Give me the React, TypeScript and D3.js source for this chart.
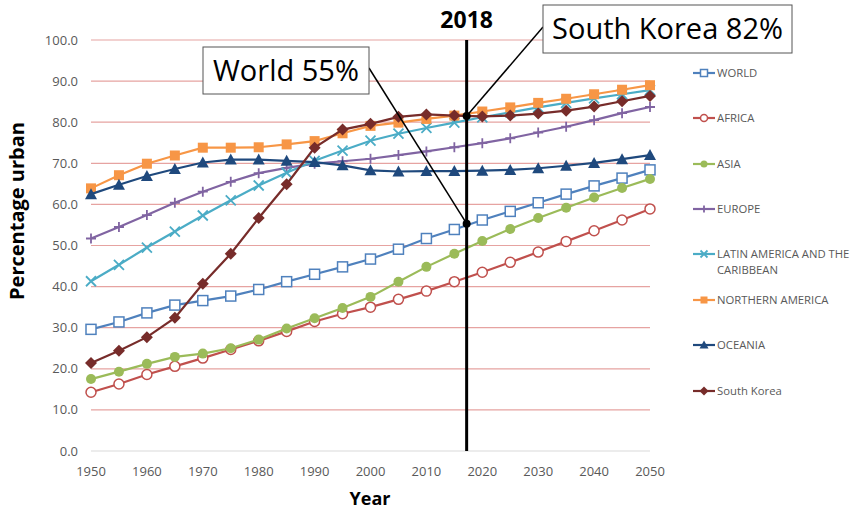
import { useEffect, useRef } from "react"
import * as d3 from "d3"

const years = d3.range(1950, 2051, 5)

const world = [29.6, 31.4, 33.6, 35.5, 36.6, 37.7, 39.3, 41.2, 43.0, 44.8, 46.7, 49.1, 51.7, 53.9, 56.2, 58.3, 60.4, 62.5, 64.5, 66.4, 68.4]
const africa = [14.3, 16.3, 18.6, 20.6, 22.6, 24.7, 26.8, 29.1, 31.5, 33.4, 35.0, 36.9, 38.9, 41.2, 43.5, 45.9, 48.4, 51.0, 53.6, 56.2, 58.9]
const asia = [17.5, 19.3, 21.2, 22.9, 23.7, 25.0, 27.1, 29.8, 32.3, 34.8, 37.5, 41.2, 44.8, 48.0, 51.1, 54.0, 56.7, 59.2, 61.7, 64.0, 66.2]
const europe = [51.7, 54.5, 57.4, 60.4, 63.1, 65.5, 67.6, 68.9, 69.9, 70.5, 71.1, 72.0, 72.9, 73.9, 74.9, 76.1, 77.5, 78.9, 80.5, 82.2, 83.7]
const latam = [41.3, 45.3, 49.5, 53.4, 57.3, 61.0, 64.6, 67.7, 70.6, 73.1, 75.5, 77.2, 78.6, 79.9, 81.2, 82.4, 83.6, 84.7, 85.8, 86.8, 87.8]
const northAmerica = [63.9, 67.1, 69.9, 71.9, 73.8, 73.8, 73.9, 74.6, 75.4, 77.3, 79.1, 79.9, 80.8, 81.6, 82.6, 83.6, 84.7, 85.7, 86.8, 87.9, 89.0]
const oceania = [62.5, 64.8, 66.9, 68.6, 70.2, 70.9, 70.9, 70.6, 70.3, 69.5, 68.3, 68.0, 68.1, 68.1, 68.2, 68.4, 68.8, 69.4, 70.1, 71.0, 72.0]
const southKorea = [21.4, 24.4, 27.7, 32.4, 40.7, 48.0, 56.7, 64.9, 73.8, 78.2, 79.6, 81.3, 81.9, 81.6, 81.4, 81.6, 82.1, 82.8, 83.8, 85.1, 86.4]

const yTicks = d3.range(0, 101, 10)
const xTicks = d3.range(1950, 2051, 10)

const markLabel = "2018"
// the marker line in the original sits a little left of 2018 on the axis
const markLinePos = 2017.2
const worldAt2018 = 55.3
const koreaAt2018 = 81.5

const series = [
  { name: "WORLD", values: world, color: "#4f81bd", marker: "squareOpen" },
  { name: "AFRICA", values: africa, color: "#c0504d", marker: "circleOpen" },
  { name: "ASIA", values: asia, color: "#9bbb59", marker: "circle" },
  { name: "EUROPE", values: europe, color: "#8064a2", marker: "plus" },
  { name: "LATIN AMERICA AND THE|CARIBBEAN", values: latam, color: "#4bacc6", marker: "cross" },
  { name: "NORTHERN AMERICA", values: northAmerica, color: "#f79646", marker: "square" },
  { name: "OCEANIA", values: oceania, color: "#1f497d", marker: "triangle" },
  { name: "South Korea", values: southKorea, color: "#772c2a", marker: "diamond" },
]

function drawMarker(g: any, type: string, color: string, s: number) {
  if (type === "squareOpen") {
    g.append("rect").attr("x", -s / 2).attr("y", -s / 2).attr("width", s).attr("height", s)
      .attr("fill", "white").attr("stroke", color).attr("stroke-width", 1.5)
  } else if (type === "square") {
    g.append("rect").attr("x", -s / 2).attr("y", -s / 2).attr("width", s).attr("height", s).attr("fill", color)
  } else if (type === "circleOpen") {
    g.append("circle").attr("r", s / 2).attr("fill", "white").attr("stroke", color).attr("stroke-width", 1.5)
  } else if (type === "circle") {
    g.append("circle").attr("r", s / 2).attr("fill", color)
  } else if (type === "plus") {
    g.append("path").attr("d", `M${-s / 2},0H${s / 2}M0,${-s / 2}V${s / 2}`).attr("stroke", color).attr("stroke-width", 1.8)
  } else if (type === "cross") {
    const h = s / 2
    g.append("path").attr("d", `M${-h},${-h}L${h},${h}M${-h},${h}L${h},${-h}`).attr("stroke", color).attr("stroke-width", 1.8)
  } else if (type === "triangle") {
    const h = s / 2
    g.append("path").attr("d", `M0,${-h - 1}L${h + 1},${h}L${-h - 1},${h}Z`).attr("fill", color)
  } else if (type === "diamond") {
    const h = s / 2 + 1
    g.append("path").attr("d", `M0,${-h}L${h},0L0,${h}L${-h},0Z`).attr("fill", color)
  }
}

export default function App() {
  const svgRef = useRef<SVGSVGElement>(null)

  useEffect(() => {
    if (!svgRef.current) return
    const width = 857
    const height = 511
    const svg = d3.select(svgRef.current)
    svg.selectAll("*").remove()
    svg.attr("width", width).attr("height", height)

    const font = "'Open Sans', sans-serif"
    const x = d3.scaleLinear().domain([1950, 2050]).range([91, 650])
    const y = d3.scaleLinear().domain([0, 100]).range([451, 40])

    // gridlines
    svg.append("g").selectAll("line").data(yTicks).enter().append("line")
      .attr("x1", x(1950)).attr("x2", x(2050))
      .attr("y1", (d) => y(d)).attr("y2", (d) => y(d))
      .attr("stroke", (d) => (d === 0 ? "#d9d9d9" : "#e6a3a1")).attr("stroke-width", 1.2)

    // tick labels
    svg.append("g").selectAll("text").data(yTicks).enter().append("text")
      .attr("x", 78).attr("y", (d) => y(d)).attr("dy", "0.35em").attr("text-anchor", "end")
      .attr("font-family", font).attr("font-size", 13).attr("fill", "#595959")
      .text((d) => d3.format(".1f")(d))
    svg.append("g").selectAll("text").data(xTicks).enter().append("text")
      .attr("x", (d) => x(d)).attr("y", 476).attr("text-anchor", "middle")
      .attr("font-family", font).attr("font-size", 13).attr("fill", "#595959")
      .text((d) => d)

    // axis titles
    svg.append("text").attr("transform", "translate(24,211) rotate(-90)").attr("text-anchor", "middle")
      .attr("font-family", font).attr("font-weight", "bold").attr("font-size", 20).text("Percentage urban")
    svg.append("text").attr("x", 370).attr("y", 505).attr("text-anchor", "middle")
      .attr("font-family", font).attr("font-weight", "bold").attr("font-size", 18).text("Year")

    // series
    const line = d3.line<number>().x((_, i) => x(years[i])).y((d) => y(d))
    series.forEach((s) => {
      svg.append("path").attr("d", line(s.values)).attr("fill", "none")
        .attr("stroke", s.color).attr("stroke-width", 2.2)
      s.values.forEach((v, i) => {
        const g = svg.append("g").attr("transform", `translate(${x(years[i])},${y(v)})`)
        drawMarker(g, s.marker, s.color, 10)
      })
    })

    // 2018 line
    const mx = x(markLinePos)
    svg.append("line").attr("x1", mx).attr("x2", mx).attr("y1", y(100)).attr("y2", y(0))
      .attr("stroke", "black").attr("stroke-width", 3)
    svg.append("text").attr("x", mx).attr("y", 28).attr("text-anchor", "middle")
      .attr("font-family", font).attr("font-weight", "bold").attr("font-size", 23).text(markLabel)

    // callouts
    svg.append("line").attr("x1", 369).attr("y1", 68).attr("x2", mx).attr("y2", y(worldAt2018))
      .attr("stroke", "black").attr("stroke-width", 1.5)
    svg.append("line").attr("x1", 543).attr("y1", 27).attr("x2", mx).attr("y2", y(koreaAt2018))
      .attr("stroke", "black").attr("stroke-width", 1.5)
    svg.append("circle").attr("cx", mx).attr("cy", y(worldAt2018)).attr("r", 4).attr("fill", "black")
    svg.append("circle").attr("cx", mx).attr("cy", y(koreaAt2018)).attr("r", 4).attr("fill", "black")

    const boxes = [
      { text: "World 55%", x: 203, y: 47, w: 166, h: 47 },
      { text: "South Korea 82%", x: 543, y: 5, w: 249, h: 48 },
    ]
    boxes.forEach((b) => {
      svg.append("rect").attr("x", b.x).attr("y", b.y).attr("width", b.w).attr("height", b.h)
        .attr("fill", "white").attr("stroke", "#555").attr("stroke-width", 1)
      svg.append("text").attr("x", b.x + b.w / 2).attr("y", b.y + b.h / 2).attr("dy", "0.36em")
        .attr("text-anchor", "middle").attr("font-family", font).attr("font-size", 29).text(b.text)
    })

    // legend
    const legendY = [73, 118, 164, 209, 254, 300, 345, 391]
    series.forEach((s, i) => {
      const g = svg.append("g").attr("transform", `translate(693,${legendY[i]})`)
      g.append("line").attr("x1", 0).attr("x2", 22).attr("stroke", s.color).attr("stroke-width", 2.2)
      const m = g.append("g").attr("transform", "translate(11,0)")
      drawMarker(m, s.marker, s.color, 7)
      const t = g.append("text").attr("x", 24).attr("font-family", font).attr("font-size", 11.3).attr("fill", "#595959")
      s.name.split("|").forEach((part, j) => {
        t.append("tspan").attr("x", 24).attr("dy", j === 0 ? "0.35em" : 16).text(part)
      })
    })
  }, [])

  return <svg ref={svgRef} style={{ position: "absolute", left: 0, top: 0 }} />
}
